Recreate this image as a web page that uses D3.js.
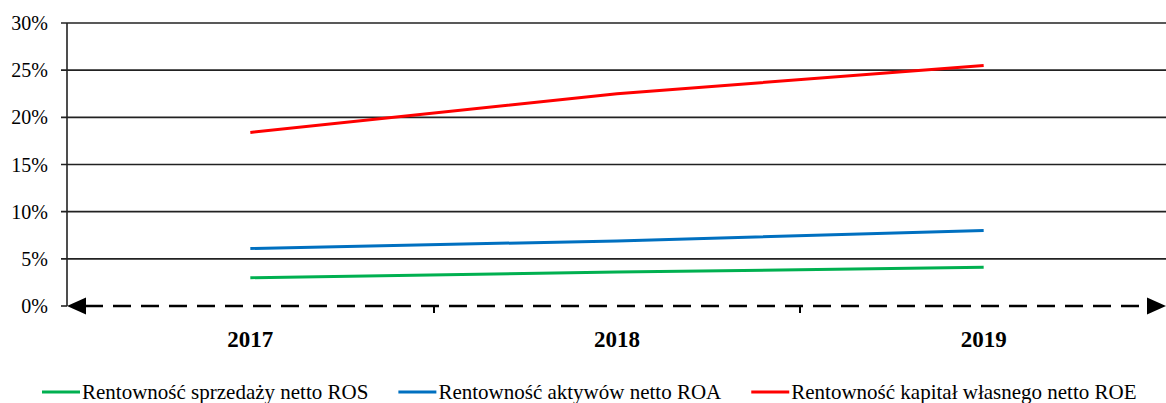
<!DOCTYPE html>
<meta charset="utf-8">
<style>
body { margin: 0; background: #fff; }
svg text { font-family: "Liberation Serif", "Times New Roman", serif; fill: #000; }
.ylab { font-size: 20px; }
.xlab { font-size: 23px; font-weight: bold; }
.leg { font-size: 21px; }
</style>
<body>
<svg id="chart" width="1166" height="403"></svg>
<script src="https://d3js.org/d3.v7.min.js"></script>
<script>
var years = ["2017", "2018", "2019"];
var ros = [0.030, 0.036, 0.041];
var roa = [0.061, 0.069, 0.080];
var roe = [0.184, 0.225, 0.255];
var yTicks = [0, 0.05, 0.10, 0.15, 0.20, 0.25, 0.30];
var seriesNames = ["Rentowność sprzedaży netto ROS", "Rentowność aktywów netto ROA", "Rentowność kapitał własnego netto ROE"];
var seriesColors = ["#00B050", "#0070C0", "#FF0000"];

var plotL = 67, plotR = 1166, plotT = 23, plotB = 306;
var svg = d3.select("#chart");

var x = d3.scaleBand().domain(years).range([plotL, plotR + 1]);
var y = d3.scaleLinear().domain([0, 0.30]).range([plotB, plotT]);

// gridlines
svg.append("g").selectAll("line")
  .data(yTicks.filter(function(d) { return d > 0; }))
  .enter().append("line")
    .attr("x1", plotL - 6).attr("x2", plotR)
    .attr("y1", function(d) { return y(d); })
    .attr("y2", function(d) { return y(d); })
    .attr("stroke", "#222").attr("stroke-width", 1.6);

// y axis
svg.append("line")
  .attr("x1", plotL).attr("x2", plotL).attr("y1", plotT).attr("y2", plotB)
  .attr("stroke", "#222").attr("stroke-width", 1.6);
svg.append("line")
  .attr("x1", plotL - 6).attr("x2", plotL).attr("y1", plotB).attr("y2", plotB)
  .attr("stroke", "#222").attr("stroke-width", 1.6);

svg.append("g").selectAll("text")
  .data(yTicks)
  .enter().append("text")
    .attr("class", "ylab")
    .attr("x", plotL - 19)
    .attr("y", function(d) { return y(d) + 7; })
    .attr("text-anchor", "end")
    .text(function(d) { return Math.round(d * 100) + "%"; });

// x axis: dashed with arrows at both ends
svg.append("line")
  .attr("x1", plotL + 18).attr("x2", plotR - 18)
  .attr("y1", plotB).attr("y2", plotB)
  .attr("stroke", "#000").attr("stroke-width", 2.5)
  .attr("stroke-dasharray", "18,10");
svg.append("path")
  .attr("d", "M" + plotL + "," + plotB + "l19,-8.5v17z").attr("fill", "#000");
svg.append("path")
  .attr("d", "M" + plotR + "," + plotB + "l-19,-8.5v17z").attr("fill", "#000");

// category separators
svg.append("g").selectAll("line")
  .data(years.slice(1))
  .enter().append("line")
    .attr("x1", function(d) { return Math.round(x(d)); })
    .attr("x2", function(d) { return Math.round(x(d)); })
    .attr("y1", plotB).attr("y2", plotB + 7)
    .attr("stroke", "#000").attr("stroke-width", 2);

svg.append("g").selectAll("text")
  .data(years)
  .enter().append("text")
    .attr("class", "xlab")
    .attr("x", function(d) { return x(d) + x.bandwidth() / 2; })
    .attr("y", 347)
    .attr("text-anchor", "middle")
    .text(function(d) { return d; });

// series lines
var line = d3.line()
  .x(function(d, i) { return x(years[i]) + x.bandwidth() / 2; })
  .y(function(d) { return y(d); });

[ros, roa, roe].forEach(function(s, i) {
  svg.append("path")
    .datum(s)
    .attr("d", line)
    .attr("fill", "none")
    .attr("stroke", seriesColors[i])
    .attr("stroke-width", 3);
});

// legend: entries laid out one after another
var legend = svg.append("g").attr("transform", "translate(0,392)");
var cursor = 42;
seriesNames.forEach(function(name, i) {
  var g = legend.append("g").attr("transform", "translate(" + cursor + ",0)");
  g.append("line")
    .attr("x1", 0).attr("x2", 38).attr("y1", 0).attr("y2", 0)
    .attr("stroke", seriesColors[i])
    .attr("stroke-width", 3);
  var t = g.append("text")
    .attr("class", "leg")
    .attr("x", 40).attr("y", 7)
    .text(name);
  cursor += 40 + t.node().getComputedTextLength() + 30;
});
</script>
</body>
